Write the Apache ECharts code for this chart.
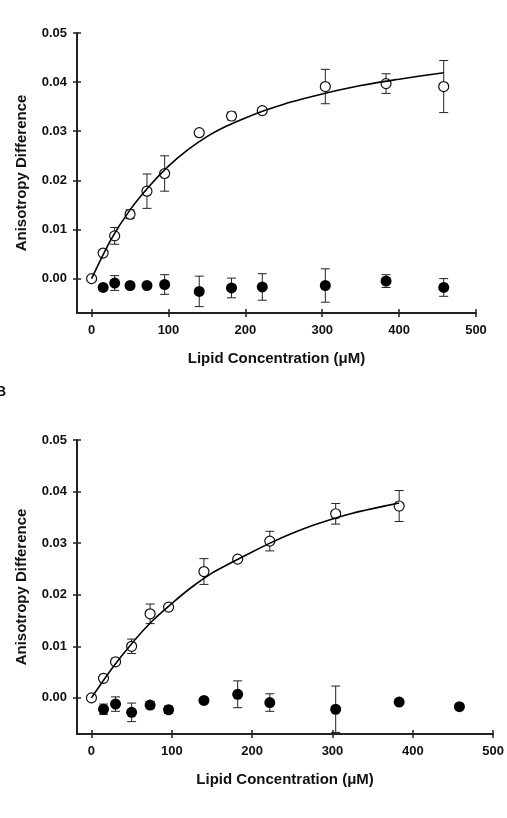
<!DOCTYPE html>
<html>
<head>
<meta charset="utf-8">
<script src="https://cdn.jsdelivr.net/npm/echarts@6/dist/echarts.min.js"></script>
<style>
  html, body { margin: 0; padding: 0; background: #fff; }
  #chart { width: 507px; height: 818px; }
</style>
</head>
<body>
<div id="chart"></div>
<script>
// panel A
const topOpenX = [0, 15, 30, 50, 72, 95, 140, 182, 222, 304, 383, 458]
const topOpenY = [0, 0.0052, 0.0087, 0.0131, 0.0178, 0.0214, 0.0297, 0.0331, 0.0342, 0.0391, 0.0397, 0.0391]
const topOpenErr = [0, 0, 0.0017, 0.0009, 0.0035, 0.0036, 0, 0.0008, 0.0006, 0.0035, 0.0020, 0.0053]
const topFilledX = [15, 30, 50, 72, 95, 140, 182, 222, 304, 383, 458]
const topFilledY = [-0.0018, -0.0009, -0.0014, -0.0014, -0.0012, -0.0026, -0.0019, -0.0017, -0.0014, -0.0005, -0.0018]
const topFilledErr = [0, 0.0015, 0, 0, 0.0020, 0.0031, 0.0020, 0.0027, 0.0034, 0.0013, 0.0018]
const topFitX = [0, 25, 50, 75, 100, 125, 150, 175, 200, 225, 250, 275, 300, 325, 350, 375, 400, 425, 458]
const topFitY = [0, 0.0079, 0.0140, 0.0188, 0.0229, 0.0262, 0.0289, 0.0310, 0.0327, 0.0342, 0.0355, 0.0366, 0.0376, 0.0385, 0.0393, 0.0400, 0.0406, 0.0412, 0.0419]

// panel B
const bottomOpenX = [0, 15, 30, 50, 73, 96, 140, 182, 222, 304, 383]
const bottomOpenY = [0, 0.0038, 0.0070, 0.0100, 0.0163, 0.0176, 0.0245, 0.0269, 0.0304, 0.0357, 0.0372]
const bottomOpenErr = [0, 0, 0, 0.0014, 0.0019, 0, 0.0025, 0, 0.0019, 0.0020, 0.0030]
const bottomFilledX = [15, 30, 50, 73, 96, 140, 182, 222, 304, 383, 458]
const bottomFilledY = [-0.0022, -0.0012, -0.0028, -0.0014, -0.0023, -0.0005, 0.0007, -0.0009, -0.0022, -0.0008, -0.0017]
const bottomFilledErr = [0.0010, 0.0014, 0.0018, 0.0007, 0.0007, 0, 0.0026, 0.0017, 0.0045, 0, 0]
const bottomFitX = [0, 25, 50, 75, 100, 125, 150, 175, 200, 225, 250, 275, 300, 325, 350, 383]
const bottomFitY = [0, 0.0056, 0.0105, 0.0148, 0.0183, 0.0215, 0.0242, 0.0263, 0.0283, 0.0302, 0.0319, 0.0334, 0.0347, 0.0358, 0.0367, 0.0378]

const xTicks = [0, 100, 200, 300, 400, 500]
const yTicks = [0, 0.01, 0.02, 0.03, 0.04, 0.05]

const xTitle = 'Lipid Concentration (\u03bcM)'
const yTitle = 'Anisotropy Difference'

const font = 'Liberation Sans, Arial, sans-serif'
const ink = '#111'

const zip = (xs, ys, es) => xs.map((x, i) => es ? [x, ys[i], es[i]] : [x, ys[i]])

const renderErr = (params, api) => {
  const x = api.value(0)
  const y = api.value(1)
  const e = api.value(2)
  const hi = api.coord([x, y + e])
  const lo = api.coord([x, y - e])
  const w = 4.5
  const style = { stroke: '#222', lineWidth: 1 }
  return {
    type: 'group',
    children: [
      { type: 'line', shape: { x1: hi[0], y1: hi[1], x2: lo[0], y2: lo[1] }, style },
      { type: 'line', shape: { x1: hi[0] - w, y1: hi[1], x2: hi[0] + w, y2: hi[1] }, style },
      { type: 'line', shape: { x1: lo[0] - w, y1: lo[1], x2: lo[0] + w, y2: lo[1] }, style },
    ],
  }
}

const xAxisPair = (grid, min) => [
  {
    type: 'value',
    gridIndex: grid,
    position: 'bottom',
    min: min,
    max: 500,
    name: xTitle,
    nameLocation: 'middle',
    nameGap: 38,
    nameTextStyle: { fontFamily: font, fontWeight: 'bold', fontSize: 15, color: ink },
    splitLine: { show: false },
    axisLine: { onZero: false, lineStyle: { color: '#222', width: 2 } },
    axisTick: { customValues: xTicks, length: 4, lineStyle: { color: '#222', width: 1.5 } },
    axisLabel: {
      customValues: xTicks,
      margin: 11,
      fontFamily: font,
      fontWeight: 'bold',
      fontSize: 13,
      color: ink,
    },
  },
  {
    type: 'value',
    gridIndex: grid,
    position: 'bottom',
    min: min,
    max: 500,
    splitLine: { show: false },
    axisLine: { show: false, onZero: false },
    axisTick: { inside: true, customValues: xTicks, length: 4, lineStyle: { color: '#222', width: 1.5 } },
    axisLabel: { show: false },
  },
]

const yAxisPair = (grid) => [
  {
    type: 'value',
    gridIndex: grid,
    position: 'left',
    min: -0.007,
    max: 0.05,
    name: yTitle,
    nameLocation: 'middle',
    nameGap: 48,
    nameTextStyle: { fontFamily: font, fontWeight: 'bold', fontSize: 15, color: ink },
    splitLine: { show: false },
    axisLine: { onZero: false, lineStyle: { color: '#222', width: 2 } },
    axisTick: { customValues: yTicks, length: 4, lineStyle: { color: '#222', width: 1.5 } },
    axisLabel: {
      customValues: yTicks,
      margin: 10,
      fontFamily: font,
      fontWeight: 'bold',
      fontSize: 13,
      color: ink,
      formatter: (v) => v.toFixed(2),
    },
  },
  {
    type: 'value',
    gridIndex: grid,
    position: 'left',
    min: -0.007,
    max: 0.05,
    splitLine: { show: false },
    axisLine: { show: false, onZero: false },
    axisTick: { inside: true, customValues: yTicks, length: 4, lineStyle: { color: '#222', width: 1.5 } },
    axisLabel: { show: false },
  },
]

const panelSeries = (xi, yi, openX, openY, openErr, filledX, filledY, filledErr, fitX, fitY) => [
  {
    type: 'custom',
    xAxisIndex: xi,
    yAxisIndex: yi,
    renderItem: renderErr,
    data: zip(openX, openY, openErr).filter((d) => d[2] > 0),
    z: 2,
    silent: true,
  },
  {
    type: 'custom',
    xAxisIndex: xi,
    yAxisIndex: yi,
    renderItem: renderErr,
    data: zip(filledX, filledY, filledErr).filter((d) => d[2] > 0),
    z: 2,
    silent: true,
  },
  {
    type: 'scatter',
    xAxisIndex: xi,
    yAxisIndex: yi,
    symbol: 'circle',
    symbolSize: 10,
    itemStyle: { color: '#fff', borderColor: '#111', borderWidth: 1.2, opacity: 1 },
    data: zip(openX, openY),
    z: 3,
  },
  {
    type: 'scatter',
    xAxisIndex: xi,
    yAxisIndex: yi,
    symbol: 'circle',
    symbolSize: 11,
    itemStyle: { color: '#000', opacity: 1 },
    data: zip(filledX, filledY),
    z: 3,
  },
  {
    type: 'line',
    xAxisIndex: xi,
    yAxisIndex: yi,
    smooth: 0.3,
    showSymbol: false,
    lineStyle: { color: '#000', width: 1.6 },
    data: zip(fitX, fitY),
    z: 4,
  },
]

const chart = echarts.init(document.getElementById('chart'))

chart.setOption({
  animation: false,
  backgroundColor: '#fff',
  grid: [
    { left: 77, top: 33, width: 399, height: 280 },
    { left: 77, top: 440, width: 419, height: 294 },
  ],
  graphic: [
    {
      type: 'text',
      left: -4,
      top: 385,
      style: { text: 'B', fontFamily: font, fontWeight: 'bold', fontSize: 14, fill: ink },
    },
  ],
  xAxis: [...xAxisPair(0, -19), ...xAxisPair(1, -18)],
  yAxis: [...yAxisPair(0), ...yAxisPair(1)],
  series: [
    ...panelSeries(0, 0, topOpenX, topOpenY, topOpenErr, topFilledX, topFilledY, topFilledErr, topFitX, topFitY),
    ...panelSeries(2, 2, bottomOpenX, bottomOpenY, bottomOpenErr, bottomFilledX, bottomFilledY, bottomFilledErr, bottomFitX, bottomFitY),
  ],
})
</script>
</body>
</html>
